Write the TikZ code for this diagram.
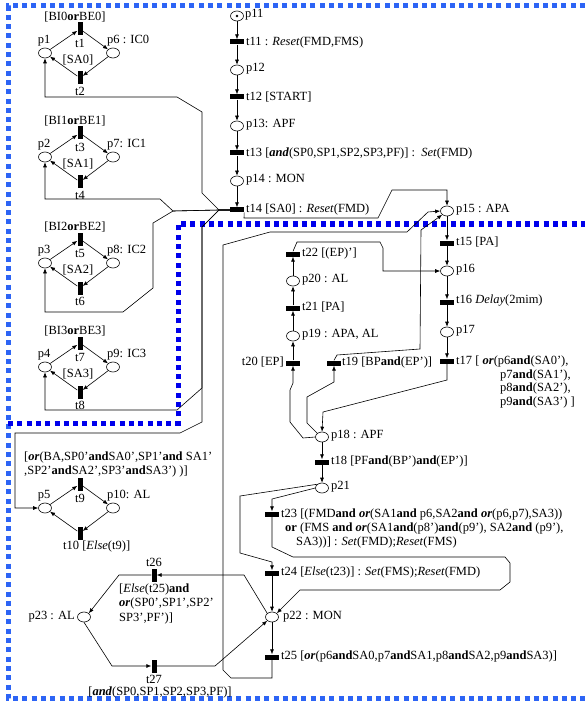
\documentclass[tikz,border=0pt]{standalone}
\usepackage{fontspec}
\setmainfont{Liberation Serif}
\usetikzlibrary{arrows.meta,shapes.geometric}
\definecolor{frameA}{RGB}{45,100,245}
\definecolor{frameB}{RGB}{0,0,235}
\begin{document}
\begin{tikzpicture}[x=1pt,y=-1pt,
  every node/.style={font=\fontsize{12.5}{14}\selectfont, inner sep=0pt},
  place/.style={draw, ellipse, minimum width=13pt, minimum height=10pt, line width=0.6pt},
  trh/.style={fill=black, rectangle, minimum width=14pt, minimum height=5pt},
  trv/.style={fill=black, rectangle, minimum width=5pt, minimum height=13pt},
  arr/.style={draw, line width=0.6pt, -{Latex[length=5pt,width=4pt]}},
  ln/.style={draw, line width=0.6pt},
  lab/.style={anchor=west},
  labe/.style={anchor=east},
  dotA/.style={draw=frameA, line width=5pt, dash pattern=on 5pt off 4.3pt},
  dotB/.style={draw=frameB, line width=5pt, dash pattern=on 5pt off 4.3pt},
]
\fill[white] (0,0) rectangle (585,703);
\useasboundingbox (0,0) rectangle (585,703);

% ---- dotted frames
\draw[dotA] (585,6) -- (8,6) -- (8,698) -- (585,698);
\draw[dotB] (8,423) -- (178,423) -- (178,224) -- (585,224);

% ---- left modules
\foreach \o/\a/\b/\c/\d/\k/\rl in {0/1/6/1/2/0/{p6 : IC0},104/2/7/3/4/1/{p7: IC1},210/3/8/5/6/2/{p8: IC2},314/4/9/7/8/3/{p9: IC3}}{
  \node[place] (p\a) at (45,53+\o) {};
  \node[place] (p\b) at (113,53+\o) {};
  \node[trv] (t\c) at (80,29+\o) {};
  \node[trv] (t\d) at (80,78+\o) {};
  \node (lp\a) at (44,41+\o) {p\a};
  \node[lab] (lp\b) at (107,41+\o) {\rl};
  \node (lt\c) at (80,43+\o) {t\c};
  \node (lt\d) at (80,91+\o) {t\d};
  \node (g\c) at (75,17+\o) {[BI\k\textbf{or}BE\k]};
  \node (sa\k) at (78,60+\o) {[SA\k]};
  \draw[arr] (p\a) -- (t\c);
  \draw[arr] (t\c) -- (p\b);
  \draw[arr] (p\b) -- (t\d);
  \draw[arr] (t\d) -- (p\a);
}

% ---- p5 module
\node[place] (p5) at (45,508) {};
\node[place] (p10) at (113,508) {};
\node[trv] (t9) at (80,484) {};
\node[trv] (t10) at (80,533) {};
\node (lp5) at (44,496) {p5};
\node[lab] (lp10) at (107,496) {p10: AL};
\node (lt9) at (80,498) {t9};
\node[lab] (lt10) at (63,546) {t10 [\textit{Else}(t9)]};
\node[lab] (g9a) at (24,457) {[\textbf{\textit{or}}(BA,SP0'\textbf{and}SA0',SP1'\textbf{and} SA1'};
\node[lab] (g9b) at (24,471) {,SP2'\textbf{and}SA2',SP3'\textbf{and}SA3') )]};
\draw[arr] (p5) -- (t9);
\draw[arr] (t9) -- (p10);
\draw[arr] (p10) -- (t10);
\draw[arr] (t10) -- (p5);

% ---- main column
\node[place] (p11) at (237,16) {};
\fill (p11) circle (1.3pt);
\node[lab] (lp11) at (245,15) {p11};
\node[trh] (t11) at (237,42) {};
\node[lab] (lt11) at (246,42) {t11 : \textit{Reset}(FMD,FMS)};
\node[place] (p12) at (237,70) {};
\node[lab] (lp12) at (246,69) {p12};
\node[trh] (t12) at (237,97) {};
\node[lab] (lt12) at (246,97) {t12 [START]};
\node[place] (p13) at (237,126) {};
\node[lab] (lp13) at (246,125) {p13: APF};
\node[trh] (t13) at (237,153) {};
\node[lab] (lt13) at (246,153) {t13 [\textbf{\textit{and}}(SP0,SP1,SP2,SP3,PF)] : \ \textit{Set}(FMD)};
\node[place] (p14) at (237,181) {};
\node[lab] (lp14) at (246,180) {p14 : MON};
\node[trh] (t14) at (237,210) {};
\node[lab] (lt14) at (246,209) {t14 [SA0] : \textit{Reset}(FMD)};
\draw[arr] (p11) -- (t11);
\draw[arr] (t11) -- (p12);
\draw[arr] (p12) -- (t12);
\draw[arr] (t12) -- (p13);
\draw[arr] (p13) -- (t13);
\draw[arr] (t13) -- (p14);
\draw[arr] (p14) -- (t14);

% t14 to the left modules
\draw[arr] (t14.west) -- (219,210) -- (202,193) -- (202,112) -- (177,97) -- (45,97) -- (p1.south);
\draw[arr] (t14.west) -- (219,210) -- (173,211) -- (160,199) -- (45,199) -- (p2.south);
\draw[arr] (t14.west) -- (219,210) -- (173,211) -- (153,223) -- (153,288) -- (123,312) -- (45,312) -- (p3.south);
\draw[arr] (t14.west) -- (219,210) -- (202,227) -- (202,388) -- (177,410) -- (45,410) -- (p4.south);
\draw[arr] (t14.west) -- (219,210) -- (202,227) -- (202,422) -- (180,433) -- (15,433) -- (15,508) -- (p5.west);

% ---- right column
\node[place] (p15) at (447,211) {};
\node[lab] (lp15) at (456,210) {p15 : APA};
\node[trh] (t15) at (447,243) {};
\node[lab] (lt15) at (456,242) {t15 [PA]};
\node[place] (p16) at (447,271) {};
\node[lab] (lp16) at (456,270) {p16};
\node[trh] (t16) at (447,302) {};
\node[lab] (lt16) at (456,301) {t16 \textit{Delay}(2mim)};
\node[place] (p17) at (447,332) {};
\node[lab] (lp17) at (456,331) {p17};
\node[trh] (t17) at (447,361) {};
\node[lab] (lt17a) at (456,361) {t17 [ \textbf{\textit{or}}(p6\textbf{and}(SA0'),};
\node[lab] (lt17b) at (500,375) {p7\textbf{and}(SA1'),};
\node[lab] (lt17c) at (500,388) {p8\textbf{and}(SA2'),};
\node[lab] (lt17d) at (500,402) {p9\textbf{and}(SA3') ]};
\draw[arr] (t14.south east) -- (244,218) -- (378,218) -- (392,190) -- (447,190) -- (p15.north);
\draw[arr] (p15) -- (t15);
\draw[arr] (t15) -- (p16);
\draw[arr] (p16) -- (t16);
\draw[arr] (t16) -- (p17);
\draw[arr] (p17) -- (t17);

% ---- alarm column
\node[trh] (t22) at (293,254) {};
\node[lab] (lt22) at (302,253) {t22 [(EP)']};
\node[place] (p20) at (293,281) {};
\node[lab] (lp20) at (302,280) {p20 : AL};
\node[trh] (t21) at (293,308) {};
\node[lab] (lt21) at (302,307) {t21 [PA]};
\node[place] (p19) at (293,336) {};
\node[lab] (lp19) at (302,335) {p19 : APA, AL};
\node[trh] (t20) at (293,363) {};
\node[labe] (lt20) at (284,362) {t20 [EP]};
\node[trh] (t19) at (334,363) {};
\node[lab] (lt19) at (342,362) {t19 [BP\textbf{and}(EP')]};
\draw[arr] (t20) -- (p19);
\draw[arr] (p19) -- (t21);
\draw[arr] (t21) -- (p20);
\draw[arr] (p20) -- (t22);
\draw[arr] (t22.north) -- (297,242) -- (380,242) -- (383,248) -- (383,271) -- (p16.west);

% ---- p18 / t18 / p21
\node[place] (p18) at (322,437) {};
\node[lab] (lp18) at (331,436) {p18 : APF};
\node[trh] (t18) at (322,462) {};
\node[lab] (lt18) at (331,461) {t18 [PF\textbf{and}(BP')\textbf{and}(EP')]};
\node[place] (p21) at (322,488) {};
\node[lab] (lp21) at (331,487) {p21};
\draw[arr] (t17.south) -- (447,380) -- (323,412) -- (p18.north);
\draw[arr] (p18.north west) -- (307,423) -- (307,397) -- (334,382) -- (t19.south);
\draw[arr] (t19.north) -- (337,355) -- (420,349) -- (421,230) -- (p15.south west);
\draw[arr] (p18.west) -- (303,438) -- (290,422) -- (290,390) -- (293,383) -- (t20.south);
\draw[arr] (p18) -- (t18);
\draw[arr] (t18) -- (p21);

% ---- lower column
\node[trh] (t23) at (272,514) {};
\node[lab] (lt23a) at (281,514) {t23 [(FMD\textbf{and} \textbf{\textit{or}}(SA1\textbf{and} p6,SA2\textbf{and} \textbf{\textit{or}}(p6,p7),SA3))};
\node[lab] (lt23b) at (285,528) {\textbf{or} (FMS \textbf{and} \textbf{\textit{or}}(SA1\textbf{and}(p8')\textbf{and}(p9'), SA2\textbf{and} (p9'),};
\node[lab] (lt23c) at (296,542) {SA3))] : \textit{Set}(FMD);\textit{Reset}(FMS)};
\node[trh] (t24) at (272,573) {};
\node[lab] (lt24) at (281,572) {t24 [\textit{Else}(t23)] : \textit{Set}(FMS);\textit{Reset}(FMD)};
\node[place] (p22) at (272,617) {};
\node[lab] (lp22) at (283,617) {p22 : MON};
\node[trh] (t25) at (272,657) {};
\node[lab] (lt25) at (281,656) {t25 [\textbf{\textit{or}}(p6\textbf{and}SA0,p7\textbf{and}SA1,p8\textbf{and}SA2,p9\textbf{and}SA3)]};
\draw[arr] (p21.west) -- (272,499) -- (t23.north);
\draw[arr] (p21.north west) -- (240,496) -- (240,553) -- (272,562) -- (t24.north);
\draw[arr] (t23.south) -- (272,547) -- (293,557) -- (505,557) -- (510,563) -- (510,582) -- (500,590) -- (300,590) -- (p22.north east);
\draw[arr] (t24) -- (p22);
\draw[arr] (p22) -- (t25);
\draw[arr] (t25.south) -- (272,678) -- (231,678) -- (223,670) -- (223,245) -- (270,232) -- (407,232) -- (428,212) -- (p15.west);

% ---- p23 / t26 / t27
\node[place] (p23) at (84,617) {};
\node[labe] (lp23) at (75,617) {p23 : AL};
\node[trv] (t26) at (154,575) {};
\node (lt26) at (154,562) {t26};
\node[lab] (g26a) at (119,589) {[\textit{Else}(t25)\textbf{and}};
\node[lab] (g26b) at (119,603) {\textbf{\textit{or}}(SP0',SP1',SP2'};
\node[lab] (g26c) at (119,618) {SP3',PF')]};
\node[trv] (t27) at (154,666) {};
\node (lt27) at (154,679) {t27};
\node (g27) at (160,692) {[\textbf{\textit{and}}(SP0,SP1,SP2,SP3,PF)]};
\draw[arr] (p22.north west) -- (244,575) -- (t26.east);
\draw[arr] (t26.west) -- (119,575) -- (p23.north east);
\draw[arr] (p23.south) -- (112,666) -- (t27.west);
\draw[arr] (t27.east) -- (215,666) -- (p22.south west);
\end{tikzpicture}
\end{document}
